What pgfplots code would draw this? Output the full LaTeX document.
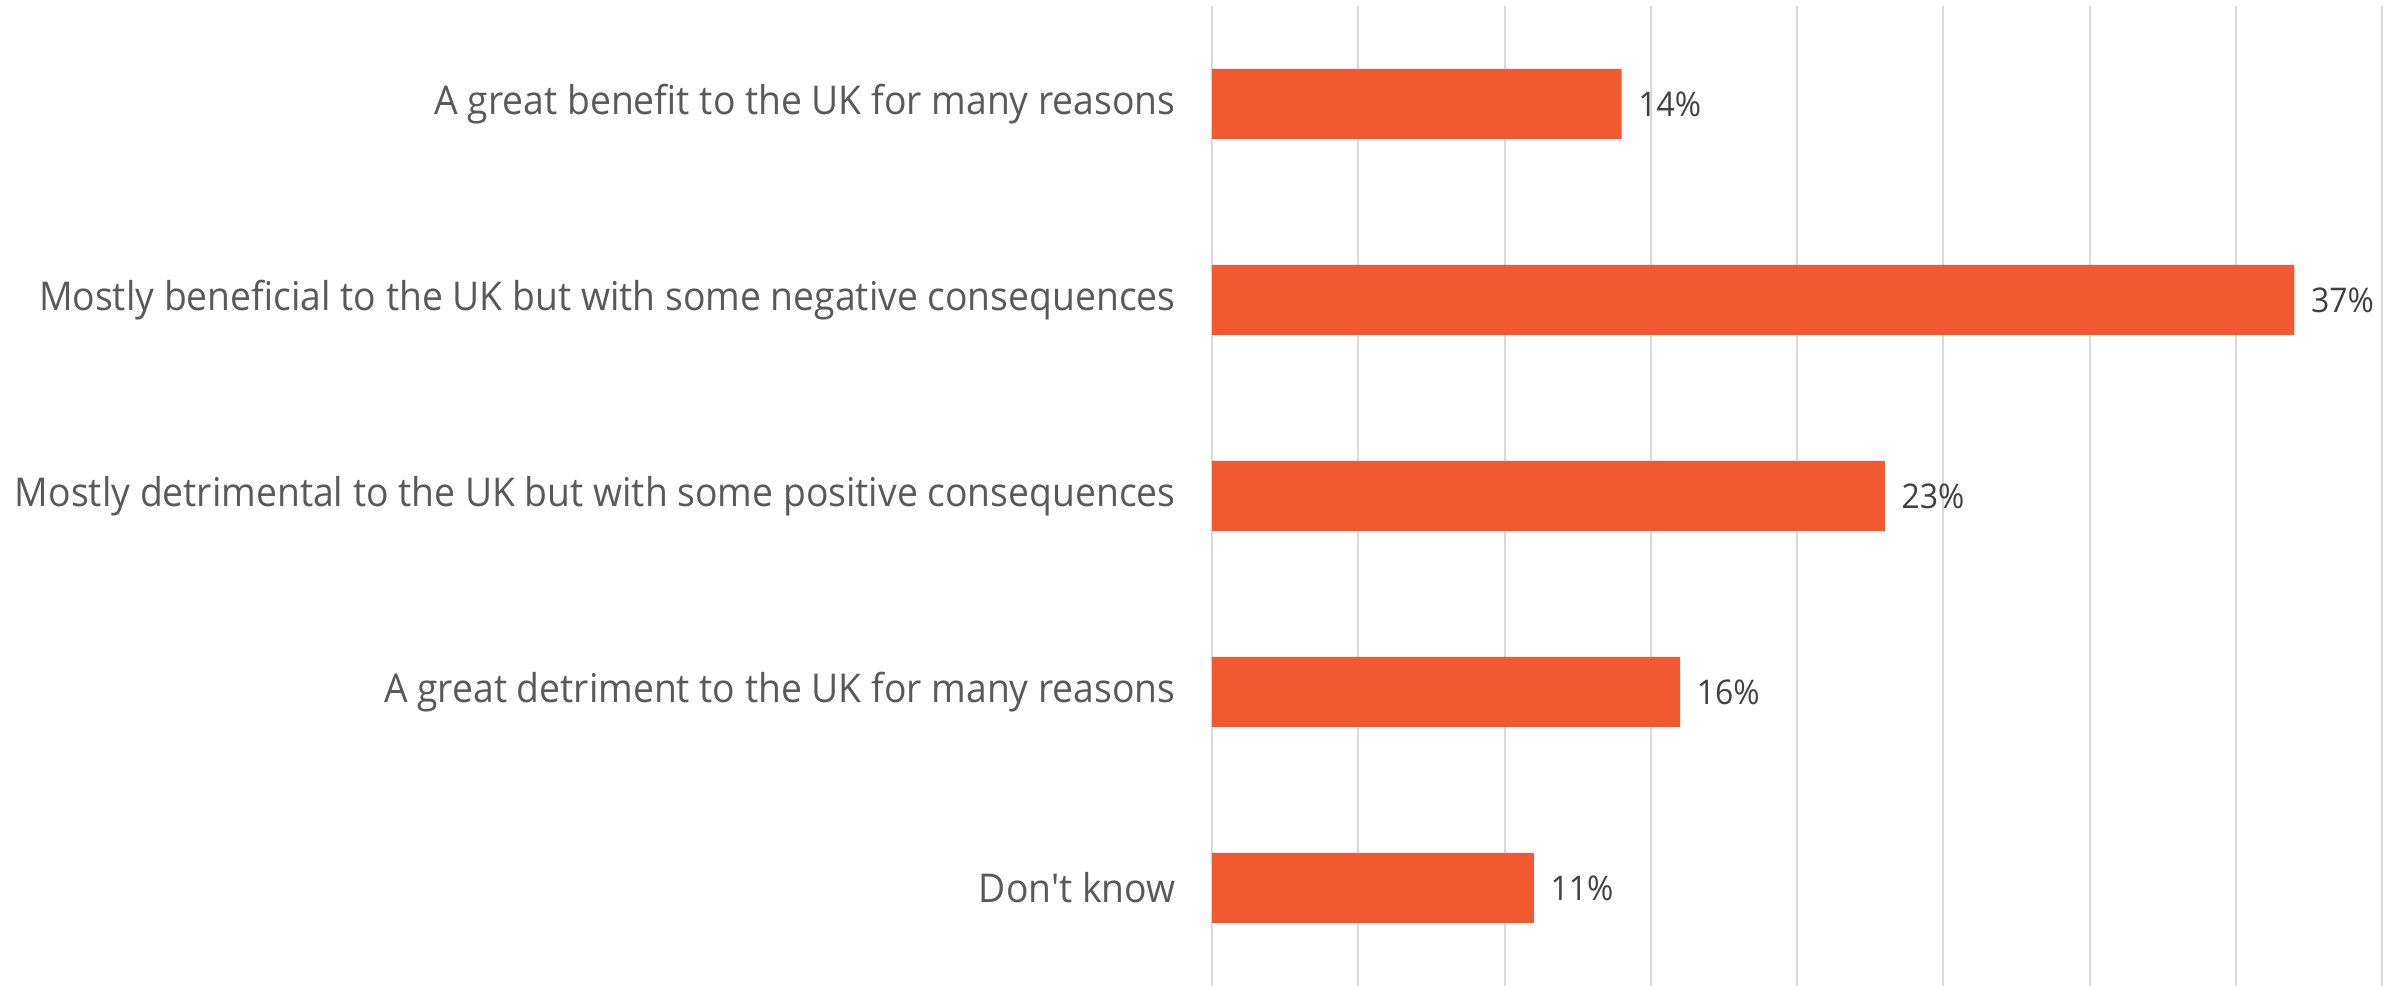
\documentclass[border=0pt]{standalone}
\usepackage{fontspec}
\setmainfont{Open Sans}
\newfontfamily\labfont[FakeStretch=0.94]{Open Sans}
\usepackage{pgfplots}
\pgfplotsset{compat=1.18}
\definecolor{barc}{HTML}{F15A31}
\definecolor{labc}{HTML}{595959}
\definecolor{valc}{HTML}{404040}
\definecolor{gridc}{HTML}{D9D9D9}
\begin{document}
\begin{tikzpicture}
\begin{axis}[
  at={(0,0)}, anchor=south west,
  scale only axis, width=358.5pt, height=294pt,
  xbar, bar width=21pt,
  xmin=0, xmax=40.85, ymin=-0.5, ymax=4.5, y dir=reverse,
  ytick={0,1,2,3,4},
  yticklabels={A great benefit to the UK for many reasons,
    Mostly beneficial to the UK but with some negative consequences,
    Mostly detrimental to the UK but with some positive consequences,
    A great detriment to the UK for many reasons,
    Don't know},
  yticklabel style={font=\labfont\fontsize{11.9}{14}\selectfont, text=labc, xshift=-7.4pt},
  xtick={0,5,...,40}, xticklabels={},
  xmajorgrids, grid style={color=gridc, line width=0.6pt},
  axis line style={draw=none}, major tick length=0pt,
  nodes near coords={\pgfplotspointmeta\%},
  nodes near coords style={font=\labfont\fontsize{10.2}{12}\selectfont, text=valc, anchor=west, xshift=1.5pt},
  point meta=explicit symbolic,
]
\addplot[fill=barc, draw=none] coordinates {(14,0) [14] (37,1) [37] (23,2) [23] (16,3) [16] (11,4) [11]};
\end{axis}
\pgfresetboundingbox
\path[use as bounding box] (-363.6pt,0) rectangle (358.5pt,295.8pt);
\end{tikzpicture}
\end{document}
